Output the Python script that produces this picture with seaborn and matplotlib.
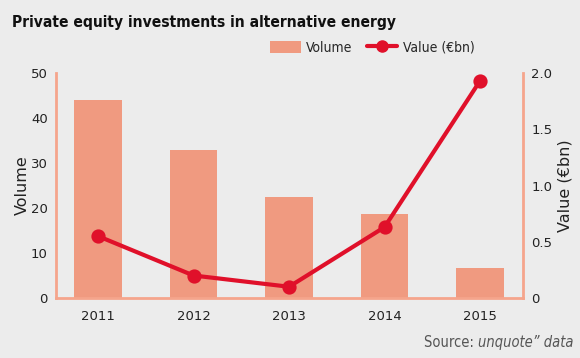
import matplotlib
matplotlib.use("Agg")
import matplotlib.pyplot as plt
import seaborn as sns
from matplotlib.lines import Line2D
from matplotlib.patches import Patch

years = ["2011", "2012", "2013", "2014", "2015"]
volume = [44, 33, 22.5, 18.7, 6.7]
value_bn = [0.55, 0.2, 0.1, 0.63, 1.93]

bg = "#ececec"
bar_col = "#f09a80"
line_col = "#e0102a"
spine_col = "#f5a58c"

sns.set_theme(style="white")
plt.rcParams["font.family"] = ["DejaVu Sans"]
cond = dict(family="DejaVu Sans", stretch="condensed")

fig = plt.figure(figsize=(5.8, 3.58), dpi=100, facecolor=bg)
ax1 = fig.add_axes([0.0966, 0.1676, 0.8051, 0.6284])
ax1.set_facecolor(bg)

sns.barplot(x=years, y=volume, ax=ax1, color=bar_col, width=0.5,
            saturation=1, edgecolor="none", linewidth=0)
ax1.set_ylim(0, 50)
ax1.set_xlim(-0.44, 4.45)
ax1.set_yticks([0, 10, 20, 30, 40, 50])
ax1.set_ylabel("Volume", fontsize=11.5, color="#222222", labelpad=1)

ax2 = ax1.twinx()
sns.pointplot(x=years, y=value_bn, ax=ax2, color=line_col, markers="o",
              linewidth=3, markersize=8)
ax2.set_ylim(0, 2.0)
ax2.set_xlim(-0.44, 4.45)
ax2.set_yticks([0, 0.5, 1.0, 1.5, 2.0])
ax2.set_yticklabels(["0", "0.5", "1.0", "1.5", "2.0"])
ax2.set_ylabel("Value (€bn)", fontsize=11.5, color="#222222", labelpad=4)

for ax in (ax1, ax2):
    ax.spines["top"].set_visible(False)
    for side in ("left", "right", "bottom"):
        ax.spines[side].set_color(spine_col)
        ax.spines[side].set_linewidth(2)
    ax.tick_params(length=0, labelsize=9.5, colors="#222222", pad=9)
    ax.grid(False)
ax1.tick_params(axis="y", pad=6)
ax2.tick_params(axis="y", pad=6)
ax1.spines["right"].set_visible(False)
ax2.spines["left"].set_visible(False)
ax2.spines["bottom"].set_visible(False)
ax1.set_xlabel("")

title = fig.text(0.02, 0.937, "Private equity investments in alternative energy",
                 fontsize=16, fontweight="bold", color="#111111", va="center", **cond)

handles = [Patch(facecolor=bar_col, edgecolor="none"),
           Line2D([0], [0], color=line_col, lw=3, marker="o", markersize=8)]
fig.legend(handles, ["Volume", "Value (€bn)"], loc="center right",
           bbox_to_anchor=(0.83, 0.866), ncol=2, frameon=False, borderpad=0,
           prop={**cond, "size": 10}, handlelength=2.2, handleheight=1.0,
           columnspacing=1.0, handletextpad=0.4)

src_italic = fig.text(0.988, 0.042, "unquote\u201d data", fontsize=10.5, style="italic",
                      color="#555555", ha="right", va="center", **cond)
src_plain = fig.text(0.0, 0.042, "Source: ", fontsize=10.5, color="#555555",
                     ha="right", va="center", **cond)

# fit the title close to the reference's width, and put "Source:" before the italic part
fig.canvas.draw()
w = title.get_window_extent().width
title.set_fontsize(16 * 385 / w)
x0 = src_italic.get_window_extent().x0
src_plain.set_x(x0 / fig.bbox.width)

fig.savefig("out.png", dpi=100, facecolor=bg)
